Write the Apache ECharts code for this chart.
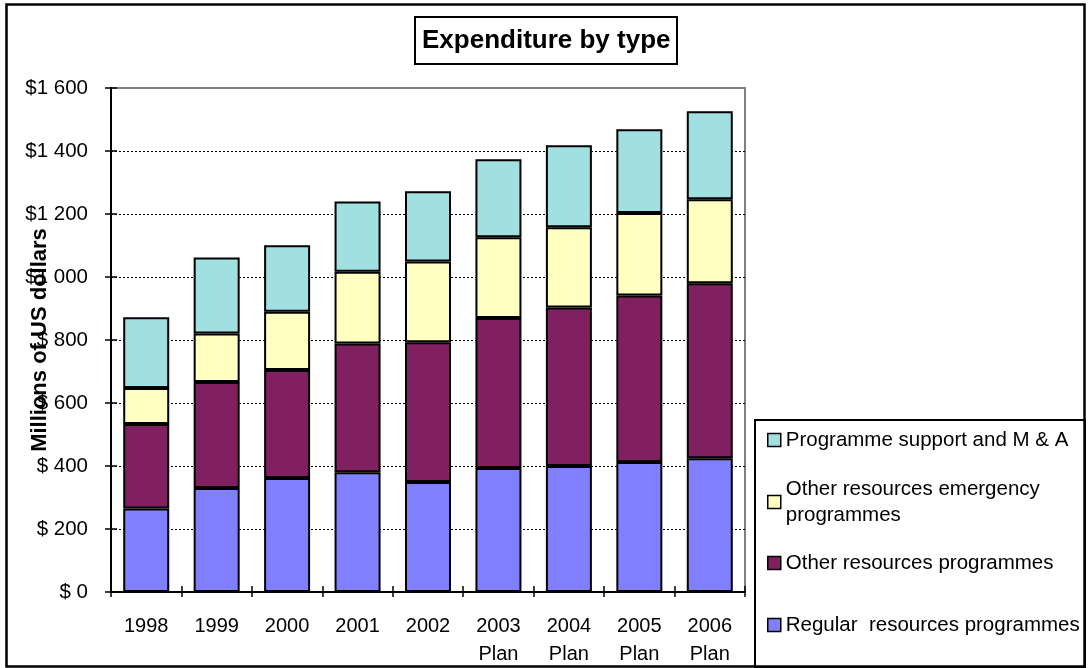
<!DOCTYPE html>
<html>
<head>
<meta charset="utf-8">
<script src="https://cdn.jsdelivr.net/npm/echarts@6/dist/echarts.min.js"></script>
<style>
html,body{margin:0;padding:0;background:#fff;}
#chart{width:1090px;height:668px;}
</style>
</head>
<body>
<div id="chart"></div>
<script>
var categories = ['1998', '1999', '2000', '2001', '2002', '2003\nPlan', '2004\nPlan', '2005\nPlan', '2006\nPlan'];
var regularResources = [265, 330, 362, 380, 349, 394, 400, 413, 425];
var otherResources = [268, 337, 343, 409, 444, 476, 503, 528, 555];
var otherEmergency = [115, 154, 185, 228, 256, 256, 255, 262, 267];
var programmeSupport = [224, 241, 211, 223, 223, 248, 260, 266, 279];
var yTickLabels = ['$ 0', '$ 200', '$ 400', '$ 600', '$ 800', '$1 000', '$1 200', '$1 400', '$1 600'];

var seriesNames = ['Regular  resources programmes', 'Other resources programmes', 'Other resources emergency\nprogrammes', 'Programme support and M & A'];
var seriesColors = ['#8080FF', '#802060', '#FFFFC0', '#A0E0E0'];
var seriesData = [regularResources, otherResources, otherEmergency, programmeSupport];

var FONT = 'Liberation Sans, Arial, sans-serif';
var chart = echarts.init(document.getElementById('chart'), null, {renderer: 'canvas'});

function makeLegend(name, top, extraText) {
  var ts = {fontFamily: FONT, fontSize: 20.5, lineHeight: 26, color: '#000'};
  if (extraText) { for (var k in extraText) ts[k] = extraText[k]; }
  return {
    data: [name], orient: 'vertical', left: 767, top: top, padding: 0,
    itemWidth: 13, itemHeight: 13, icon: 'rect',
    itemStyle: {borderColor: '#000', borderWidth: 1.5},
    textStyle: ts, selectedMode: false
  };
}

var option = {
  backgroundColor: '#fff',
  animation: false,
  title: {
    text: 'Expenditure by type', left: 415, top: 17,
    padding: [9, 7, 8, 7], borderColor: '#000', borderWidth: 2,
    textStyle: {fontFamily: FONT, fontSize: 26, fontWeight: 'bold', color: '#000', lineHeight: 30}
  },
  legend: [
    makeLegend(seriesNames[3], 427),
    makeLegend(seriesNames[2], 463, {padding: [26, 0, 0, 0]}),
    makeLegend(seriesNames[1], 550),
    makeLegend(seriesNames[0], 612)
  ],
  grid: {left: 111, right: 345, top: 88, bottom: 76, show: true, borderColor: '#808080', borderWidth: 2, containLabel: false, outerBoundsMode: 'none'},
  xAxis: [{
    type: 'category', data: categories, position: 'bottom',
    axisLine: {show: true, lineStyle: {color: '#000', width: 2}},
    axisTick: {show: true, length: 5, lineStyle: {color: '#000', width: 1.5}},
    axisLabel: {fontFamily: FONT, fontSize: 20, color: '#000', lineHeight: 28, margin: 20, interval: 0},
    splitLine: {show: false}
  }, {
    type: 'category', data: categories, position: 'bottom',
    axisLine: {show: false},
    axisTick: {show: true, inside: true, length: 6, lineStyle: {color: '#000', width: 1.5}},
    axisLabel: {show: false}, splitLine: {show: false}
  }],
  yAxis: [{
    type: 'value', min: 0, max: 1600, interval: 200, position: 'left',
    name: 'Millions of US dollars', nameLocation: 'middle', nameGap: 60, nameMoveOverlap: false,
    nameTextStyle: {fontFamily: FONT, fontSize: 22, fontWeight: 'bold', color: '#000'},
    axisLine: {show: true, lineStyle: {color: '#000', width: 2}},
    axisTick: {show: true, length: 6, lineStyle: {color: '#000', width: 1.5}},
    axisLabel: {fontFamily: FONT, fontSize: 20.5, color: '#000', margin: 23,
      formatter: function (v) { return yTickLabels[Math.round(v / 200)]; }},
    splitLine: {show: true, showMaxLine: false, lineStyle: {color: '#000', width: 1, type: [2, 2]}}
  }, {
    type: 'value', min: 0, max: 1600, interval: 200, position: 'left',
    axisLine: {show: false},
    axisTick: {show: true, inside: true, length: 6, lineStyle: {color: '#000', width: 1.5}},
    axisLabel: {show: false}, splitLine: {show: false}
  }],
  graphic: [
    {type: 'rect', shape: {x: 6.5, y: 4.5, width: 1078, height: 662}, style: {fill: 'none', stroke: '#000', lineWidth: 2.5}, silent: true, z: 100},
    {type: 'rect', shape: {x: 755, y: 420, width: 330, height: 248}, style: {fill: 'none', stroke: '#000', lineWidth: 2}, silent: true, z: 100}
  ],
  series: seriesNames.map(function (n, i) {
    return {
      name: n, type: 'bar', stack: 'total', barWidth: 46,
      xAxisIndex: 0, yAxisIndex: 0,
      data: seriesData[i],
      itemStyle: {color: seriesColors[i], borderColor: '#000', borderWidth: 2}
    };
  })
};
chart.setOption(option);
</script>
</body>
</html>
